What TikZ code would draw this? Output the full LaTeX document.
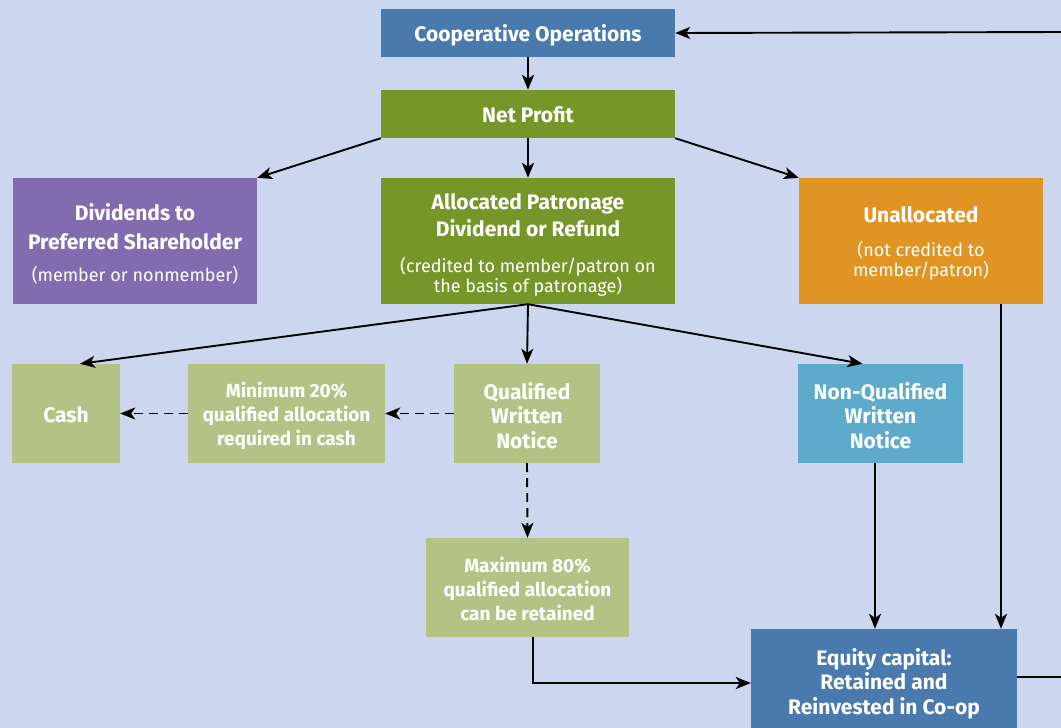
\documentclass[tikz,border=0pt]{standalone}
\usepackage{fontspec}
\setmainfont{Fira Sans}
\usetikzlibrary{arrows.meta,calc}
\definecolor{bg}{RGB}{204,215,239}
\definecolor{cblue}{RGB}{74,122,173}
\definecolor{cgreen}{RGB}{119,150,42}
\definecolor{cpurple}{RGB}{131,107,176}
\definecolor{corange}{RGB}{224,148,36}
\definecolor{clgreen}{RGB}{179,195,134}
\definecolor{clblue}{RGB}{93,170,203}
\newcommand{\sub}{\fontsize{18}{20}\selectfont\mdseries}
\begin{document}
\begin{tikzpicture}[x=1pt,y=-1pt,
  box/.style={inner sep=0pt,anchor=center},
  lbl/.style={inner sep=0pt,align=center,text=white},
  tbig/.style={lbl,font=\fontsize{21}{27}\selectfont\bfseries},
  tdiv/.style={lbl,font=\fontsize{21}{29}\selectfont\bfseries},
  tmid/.style={lbl,font=\fontsize{21}{24.5}\selectfont\bfseries},
  tsml/.style={lbl,font=\fontsize{19}{24}\selectfont\bfseries},
  arr/.style={-{Stealth[length=15pt,width=12pt,inset=4pt]},line width=1.9pt,black},
  darr/.style={arr,dash pattern=on 9pt off 6pt}]
\fill[bg] (0,0) rectangle (1061,728);
\useasboundingbox (0,0) rectangle (1061,728);
\node[box,fill=cblue,minimum width=294pt,minimum height=48pt,
  label={[tbig,yshift=-2pt]center:Cooperative Operations}] (coop) at (528,33) {};
\node[box,fill=cgreen,minimum width=294pt,minimum height=48pt,
  label={[tbig,yshift=-1pt]center:Net Profit}] (net) at (528,114) {};
\node[box,fill=cpurple,minimum width=244pt,minimum height=126pt,
  label={[tdiv,yshift=-2.5pt]center:{Dividends to\\ Preferred Shareholder\\[3pt] {\sub (member or nonmember)}}}] (div) at (135,241) {};
\node[box,fill=cgreen,minimum width=294pt,minimum height=126pt,
  label={[tbig,yshift=-4pt]center:{Allocated Patronage\\ Dividend or Refund\\[9pt] {\sub (credited to member/patron on}\\[-7pt] {\sub the basis of patronage)}}}] (alloc) at (528,241) {};
\node[box,fill=corange,minimum width=244pt,minimum height=126pt,
  label={[tbig,yshift=-2pt]center:{Unallocated\\[7pt] {\sub (not credited to}\\[-7pt] {\sub member/patron)}}}] (unalloc) at (921,241) {};
\node[box,fill=clgreen,minimum width=108pt,minimum height=99pt,
  label={[tbig,yshift=-1pt]center:Cash}] (cash) at (66,413.5) {};
\node[box,fill=clgreen,minimum width=197pt,minimum height=99pt,
  label={[tsml,yshift=-2pt]center:{Minimum 20\%\\ qualified allocation\\ required in cash}}] (min) at (286.5,413.5) {};
\node[box,fill=clgreen,minimum width=146pt,minimum height=99pt,
  label={[tmid,yshift=-2pt]center:{Qualified\\ Written\\ Notice}}] (qual) at (527,413.5) {};
\node[box,fill=clblue,minimum width=165pt,minimum height=99pt,
  label={[tmid,yshift=-2pt]center:{Non-Qualified\\ Written\\ Notice}}] (nq) at (880.5,413.5) {};
\node[box,fill=clgreen,minimum width=203pt,minimum height=99pt,
  label={[tsml,yshift=-1pt]center:{Maximum 80\%\\ qualified allocation\\ can be retained}}] (max) at (527.5,587.5) {};
\node[box,fill=cblue,minimum width=266pt,minimum height=104pt,
  label={[tmid,yshift=-2.5pt]center:{Equity capital:\\ Retained and\\ Reinvested in Co-op}}] (eq) at (884,681) {};
\coordinate (fb1) at (1064,677);
\coordinate (fb2) at (1064,32);
\draw[arr] (coop.south) -- (net.north);
\draw[arr] (net.south west) -- (div.north east);
\draw[arr] (net.south) -- (alloc.north);
\draw[arr] (net.south east) -- (unalloc.north west);
\draw[arr] (alloc.south) -- ([xshift=14pt]cash.north);
\draw[arr] (alloc.south) -- (qual.north);
\draw[arr] (alloc.south) -- ([xshift=-18pt]nq.north);
\draw[darr] (qual.west) -- (min.east);
\draw[darr] (min.west) -- (cash.east);
\draw[darr] (qual.south) -- (max.north);
\draw[arr] ([xshift=5.5pt]max.south) |- ([yshift=-2pt]eq.west);
\draw[arr] ([xshift=-5.5pt]nq.south) -- ([xshift=-5.5pt]nq.south |- eq.north);
\draw[arr] ([xshift=80pt]unalloc.south) -- ([xshift=80pt]unalloc.south |- eq.north);
\draw[arr] ([yshift=4pt]eq.east) -- (fb1) -- (fb2) -- (coop.east);
\end{tikzpicture}
\end{document}
